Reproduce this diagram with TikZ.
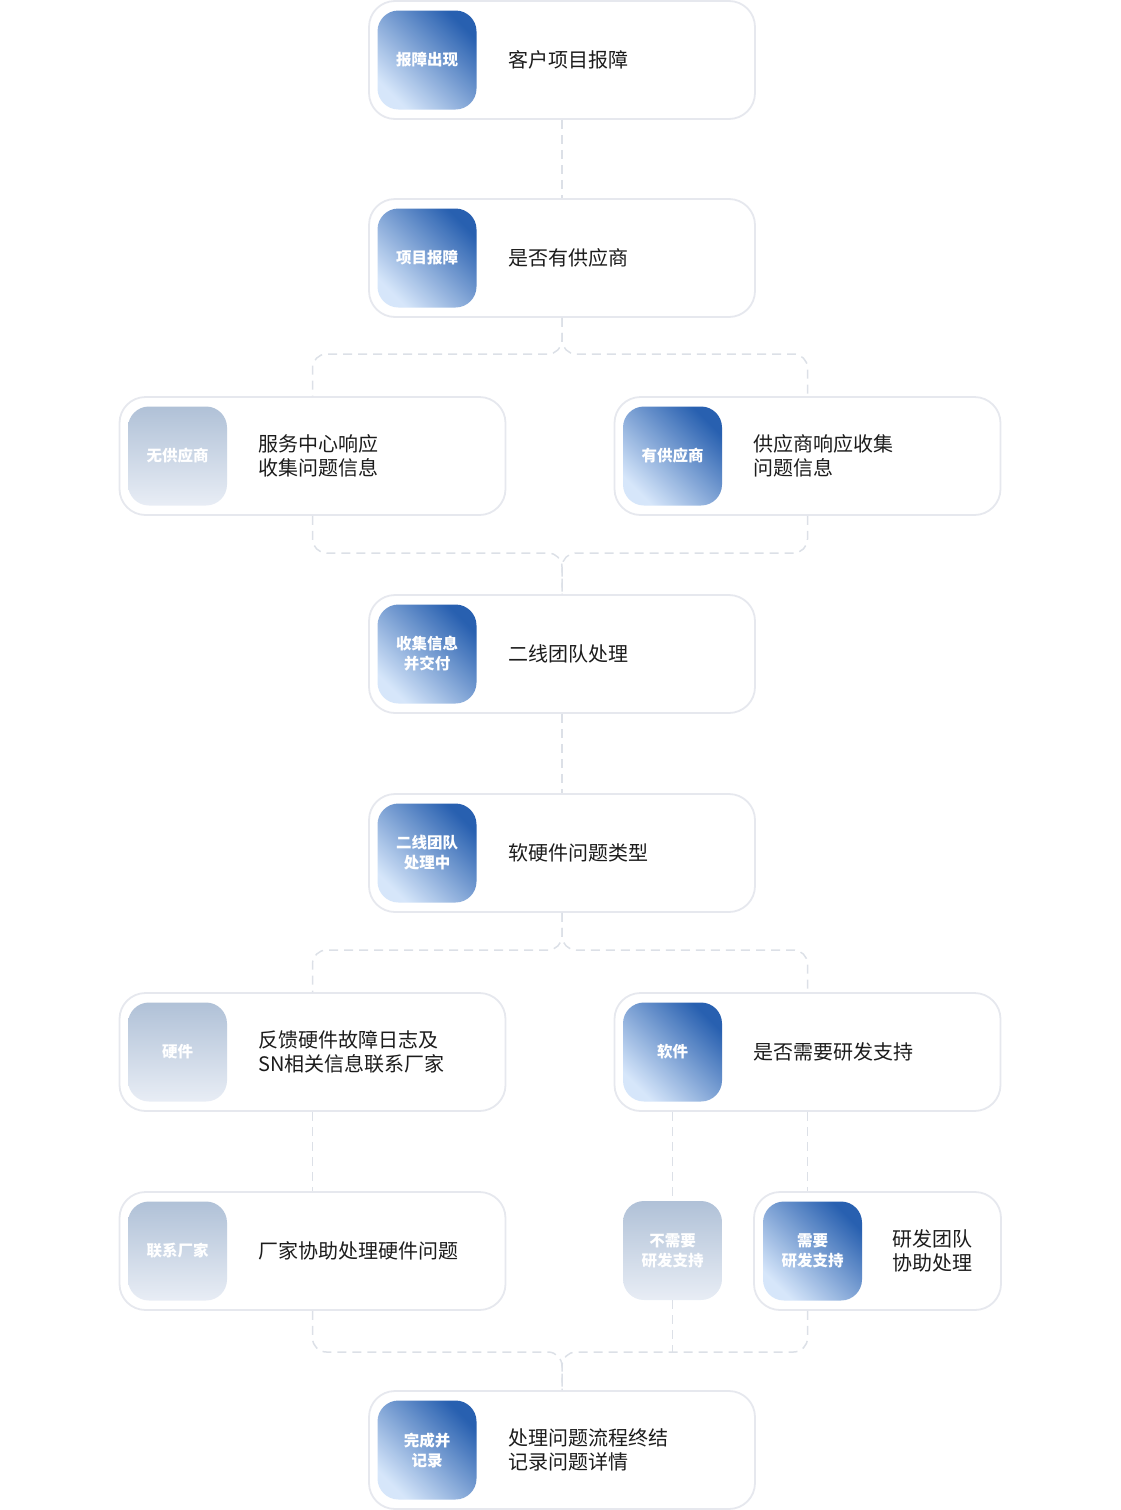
\documentclass[tikz,border=0pt]{standalone}
\usepackage{fontspec}
\setmainfont{Noto Sans CJK SC}
\usetikzlibrary{calc}
\definecolor{bdr}{HTML}{E6E8EE}
\definecolor{lnc}{HTML}{DCE0E7}
\definecolor{bdark}{HTML}{2860B0}
\definecolor{blight}{HTML}{D6E6FA}
\definecolor{gtop}{HTML}{B0C1D7}
\definecolor{gbot}{HTML}{E8EDF5}
\definecolor{txtc}{HTML}{1C1C1C}
\tikzset{
  outer/.style={draw=bdr, line width=1.8pt, fill=white, rounded corners=26pt, minimum width=386pt, minimum height=118pt, inner sep=0pt},
  icon/.style={rounded corners=21pt, minimum width=99pt, minimum height=99pt, inner sep=0pt, text=white, font=\fontsize{15.5}{20}\selectfont\bfseries, align=center},
  blueicon/.style={icon, top color=bdark, bottom color=blight, shading angle=-45},
  greyicon/.style={icon, top color=gtop, bottom color=gbot},
  txt/.style={anchor=west, font=\fontsize{20}{24}\selectfont, text=txtc, align=left, inner sep=0pt},
  conn/.style={draw=lnc, line width=1.5pt, dash pattern=on 9pt off 6pt, rounded corners=14pt}
}
\begin{document}
\begin{tikzpicture}[x=1pt,y=-1pt]
\useasboundingbox (0,0) rectangle (1120,1510);
% row 1
\node[outer] (b1) at (562,60) {};
\node[blueicon] (i1) at (427,60) {报障出现};
\node[txt] (t1) at (508,60) {客户项目报障};
% row 2
\node[outer] (b2) at (562,258) {};
\node[blueicon] (i2) at (427,258) {项目报障};
\node[txt] (t2) at (508,258) {是否有供应商};
% row 3
\node[outer] (b3l) at (312.5,456) {};
\node[greyicon] (i3l) at (177.5,456) {无供应商};
\node[txt] (t3l) at (258,456) {服务中心响应\\收集问题信息};
\node[outer] (b3r) at (807.5,456) {};
\node[blueicon] (i3r) at (672.5,456) {有供应商};
\node[txt] (t3r) at (753,456) {供应商响应收集\\问题信息};
% row 4
\node[outer] (b4) at (562,654) {};
\node[blueicon] (i4) at (427,654) {收集信息\\并交付};
\node[txt] (t4) at (508,654) {二线团队处理};
% row 5
\node[outer] (b5) at (562,853) {};
\node[blueicon] (i5) at (427,853) {二线团队\\处理中};
\node[txt] (t5) at (508,853) {软硬件问题类型};
% row 6
\node[outer] (b6l) at (312.5,1052) {};
\node[greyicon] (i6l) at (177.5,1052) {硬件};
\node[txt] (t6l) at (258,1052) {反馈硬件故障日志及\\SN相关信息联系厂家};
\node[outer] (b6r) at (807.5,1052) {};
\node[blueicon] (i6r) at (672.5,1052) {软件};
\node[txt] (t6r) at (753,1052) {是否需要研发支持};
% row 7
\node[outer] (b7l) at (312.5,1251) {};
\node[greyicon] (i7l) at (177.5,1251) {联系厂家};
\node[txt] (t7l) at (258,1251) {厂家协助处理硬件问题};
\node[greyicon] (nn) at (672.5,1250.5) {不需要\\研发支持};
\node[outer, minimum width=247pt] (b7r) at (877.5,1251) {};
\node[blueicon] (i7r) at (812.5,1251) {需要\\研发支持};
\node[txt] (t7r) at (892,1251) {研发团队\\协助处理};
% row 8
\node[outer] (b8) at (562,1450) {};
\node[blueicon] (i8) at (427,1450) {完成并\\记录};
\node[txt] (t8) at (508,1450) {处理问题流程终结\\记录问题详情};
% connectors
\coordinate (s2) at (562,354);
\coordinate (m3) at (562,553);
\coordinate (s5) at (562,950);
\coordinate (m8) at (562,1352);
\draw[conn] (b1.south) -- (b2.north);
\draw[conn] (b2.south) -- (s2) -| (b3l.north);
\draw[conn] (b2.south) -- (s2) -| (b3r.north);
\draw[conn] (b3l.south) |- (m3) -- (b4.north);
\draw[conn] (b3r.south) |- (m3) -- (b4.north);
\draw[conn] (b4.south) -- (b5.north);
\draw[conn] (b5.south) -- (s5) -| (b6l.north);
\draw[conn] (b5.south) -- (s5) -| (b6r.north);
\draw[conn] (b6l.south) -- (b7l.north);
\draw[conn] (b6r.south) -- (b6r.south |- b7r.north);
\draw[conn] (nn.north |- b6r.south) -- (nn.north);
\draw[conn] (b7l.south) |- (m8) -- (b8.north);
\draw[conn] (b6r.south |- b7r.south) |- (m8) -- (b8.north);
\draw[conn] (nn.south) -- (nn.south |- m8);
\end{tikzpicture}
\end{document}
